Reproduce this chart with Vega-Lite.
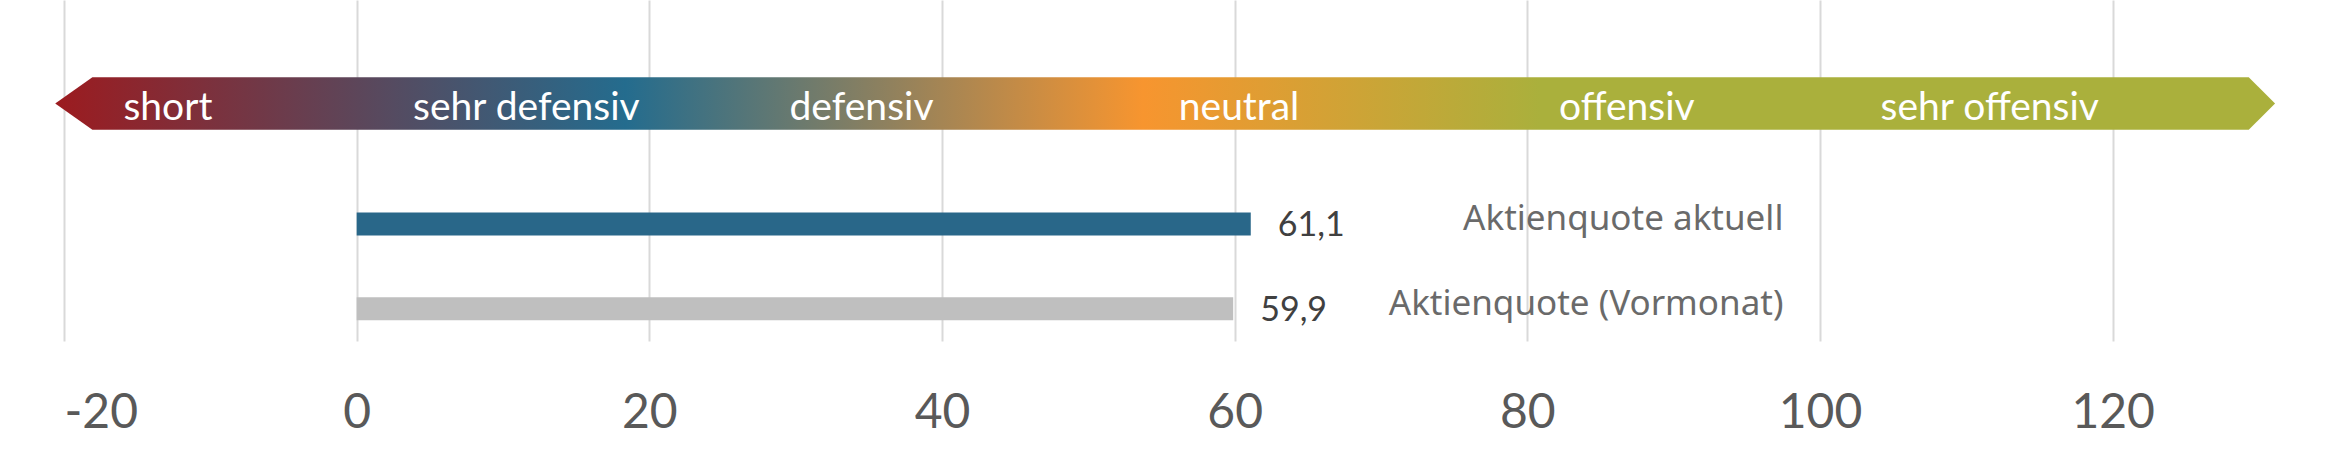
{
  "$schema": "https://vega.github.io/schema/vega-lite/v6.json",
  "autosize": {"type": "none"},
  "padding": {"left": 64, "top": 0, "right": 69, "bottom": 109},
  "width": 2195,
  "height": 341,
  "background": "white",
  "config": {
    "view": {"stroke": null},
    "font": "Lato",
    "locale": {
      "number": {"decimal": ",", "thousands": ".", "grouping": [3], "currency": ["", " €"], "minus": "-"}
    }
  },
  "datasets": {
    "pfeil": [
      {"x": -20.6, "oben": 3.42, "unten": 3.42},
      {"x": -18.06, "oben": 3.73, "unten": 3.11},
      {"x": 129.3, "oben": 3.73, "unten": 3.11},
      {"x": 131.1, "oben": 3.42, "unten": 3.42}
    ],
    "zonen": [
      {"zone": "short", "mitte": -12.9},
      {"zone": "sehr defensiv", "mitte": 11.6},
      {"zone": "defensiv", "mitte": 34.5},
      {"zone": "neutral", "mitte": 60.3},
      {"zone": "offensiv", "mitte": 86.8},
      {"zone": "sehr offensiv", "mitte": 111.6}
    ],
    "quoten": [
      {"serie": "Aktienquote aktuell", "wert": 61.1, "start": 0, "zeile": 2},
      {"serie": "Aktienquote (Vormonat)", "wert": 59.9, "start": 0, "zeile": 1}
    ]
  },
  "layer": [
    {
      "data": {"name": "pfeil"},
      "mark": {
        "type": "area",
        "color": {
          "gradient": "linear",
          "x1": 0, "y1": 0, "x2": 1, "y2": 0,
          "stops": [
            {"offset": 0, "color": "#9c1b1f"},
            {"offset": 0.257, "color": "#246c8e"},
            {"offset": 0.49, "color": "#f7952f"},
            {"offset": 0.669, "color": "#aab03c"},
            {"offset": 1, "color": "#aab03c"}
          ]
        }
      },
      "encoding": {
        "x": {
          "field": "x",
          "type": "quantitative",
          "scale": {"domain": [-20, 130], "nice": false, "zero": false},
          "axis": {
            "values": [-20, 0, 20, 40, 60, 80, 100, 120],
            "title": null,
            "domain": false,
            "ticks": false,
            "grid": true,
            "gridColor": "#d9d9d9",
            "gridWidth": 2,
            "labelFontSize": 48,
            "labelColor": "#595959",
            "labelPadding": 48,
            "labelFont": "Lato"
          }
        },
        "y": {
          "field": "oben",
          "type": "quantitative",
          "scale": {"domain": [0.62, 4.64], "nice": false, "zero": false},
          "axis": null
        },
        "y2": {"field": "unten"}
      }
    },
    {
      "data": {"name": "zonen"},
      "mark": {"type": "text", "color": "white", "fontSize": 39, "align": "center", "baseline": "alphabetic"},
      "encoding": {
        "x": {"field": "mitte", "type": "quantitative"},
        "y": {"datum": 3.23, "type": "quantitative"},
        "text": {"field": "zone", "type": "nominal"}
      }
    },
    {
      "data": {"name": "quoten"},
      "mark": {"type": "rule", "strokeWidth": 23, "strokeCap": "butt"},
      "encoding": {
        "x": {"field": "start", "type": "quantitative"},
        "x2": {"field": "wert"},
        "y": {"field": "zeile", "type": "quantitative"},
        "color": {
          "field": "serie",
          "type": "nominal",
          "scale": {
            "domain": ["Aktienquote aktuell", "Aktienquote (Vormonat)"],
            "range": ["#296789", "#bfbfbf"]
          },
          "legend": null
        }
      }
    },
    {
      "data": {"name": "quoten"},
      "mark": {"type": "text", "align": "left", "baseline": "middle", "dx": 27, "dy": 2, "fontSize": 34, "color": "#404040"},
      "encoding": {
        "x": {"field": "wert", "type": "quantitative"},
        "y": {"field": "zeile", "type": "quantitative"},
        "text": {"field": "wert", "type": "quantitative", "format": ".1f"}
      }
    },
    {
      "data": {"name": "quoten"},
      "mark": {"type": "text", "align": "right", "baseline": "middle", "dy": -5, "fontSize": 35, "font": "Noto Sans", "color": "#6a6a6a"},
      "encoding": {
        "x": {"datum": 97.5, "type": "quantitative"},
        "y": {"field": "zeile", "type": "quantitative"},
        "text": {"field": "serie", "type": "nominal"}
      }
    }
  ]
}
